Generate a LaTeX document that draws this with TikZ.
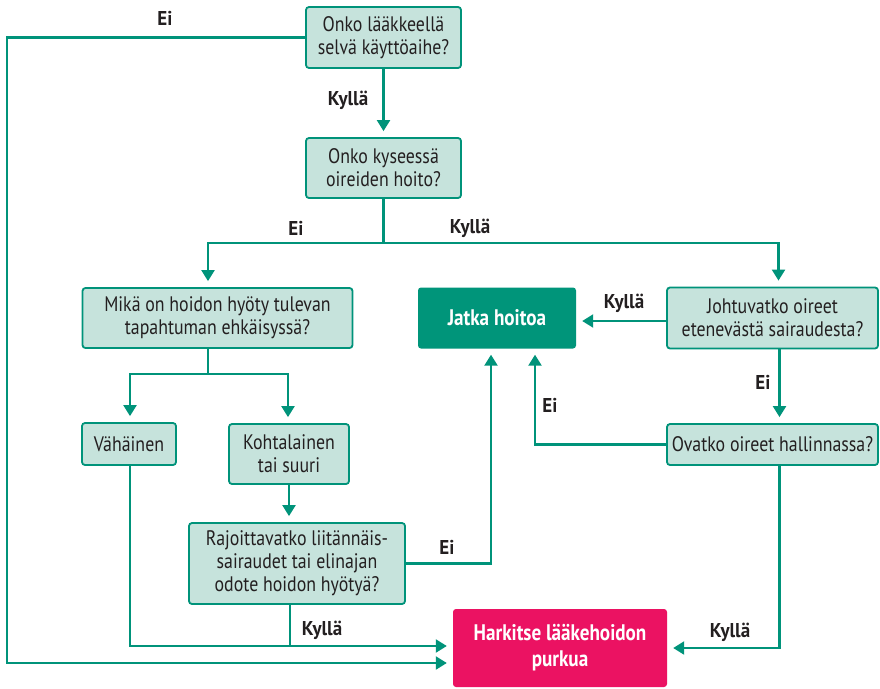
\documentclass[tikz,border=0pt]{standalone}
\usepackage{fontspec}
\setmainfont{PT Sans}[FakeStretch=0.85]
\newfontfamily\lblfont{PT Sans Bold}[FakeStretch=0.95]
\usetikzlibrary{arrows.meta}
\definecolor{lineteal}{HTML}{00937A}
\definecolor{boxfill}{HTML}{C6E3DC}
\definecolor{darkteal}{HTML}{00957A}
\definecolor{pinkred}{HTML}{EB1262}
\definecolor{txt}{HTML}{231F20}
\tikzset{
  qbox/.style={draw=lineteal, fill=boxfill, line width=1.8pt, rounded corners=3pt,
    align=center, inner sep=0pt, text=txt, font=\fontsize{21}{23}\selectfont},
  okbox/.style={fill=darkteal, rounded corners=3pt, align=center, inner sep=0pt,
    text=white, font=\fontsize{22.5}{26}\selectfont\bfseries},
  stopbox/.style={fill=pinkred, rounded corners=3pt, align=center, inner sep=0pt,
    text=white, font=\fontsize{22.5}{26}\selectfont\bfseries},
  conn/.style={draw=lineteal, line width=2.2pt},
  arr/.style={conn, -{Triangle[width=13pt,length=11pt]}, shorten >=6pt},
  lbl/.style={text=txt, font=\lblfont\fontsize{20}{22}\selectfont, inner sep=0pt},
}
\begin{document}
\begin{tikzpicture}[x=1pt,y=-1pt]
\useasboundingbox (0,0) rectangle (880,688);
\fill[white] (0,0) rectangle (880,688);
% nodes
\node[qbox, minimum width=155pt, minimum height=61pt] (A) at (383.5,37.5) {Onko lääkkeellä\\selvä käyttöaihe?};
\node[qbox, minimum width=155pt, minimum height=60pt] (B) at (383.5,168) {Onko kyseessä\\oireiden hoito?};
\node[qbox, minimum width=270pt, minimum height=60pt] (M) at (217.5,318) {Mikä on hoidon hyöty tulevan\\tapahtuman ehkäisyssä?};
\node[okbox, minimum width=158pt, minimum height=61pt] (J) at (497,318) {Jatka hoitoa};
\node[qbox, minimum width=211pt, minimum height=61pt] (Jo) at (772.5,318) {Johtuvatko oireet\\etenevästä sairaudesta?};
\node[qbox, minimum width=211pt, minimum height=41pt] (O) at (772.5,444.5) {Ovatko oireet hallinnassa?};
\node[qbox, minimum width=94pt, minimum height=42pt] (V) at (129,444) {Vähäinen};
\node[qbox, minimum width=120pt, minimum height=60pt] (K) at (289,454) {Kohtalainen\\tai suuri};
\node[qbox, minimum width=216pt, minimum height=81pt] (R) at (297,563.5) {Rajoittavatko liitännäis-\\sairaudet tai elinajan\\odote hoidon hyötyä?};
\node[stopbox, minimum width=214pt, minimum height=78pt] (H) at (560,648) {Harkitse lääkehoidon\\purkua};
% connectors
\draw[arr] (A.south) -- (B.north);
\draw[arr] (A.west) -- ++(-298,0) |- ([yshift=-15pt]H.west);
\draw[arr] (B.south) -- ++(0,44) -| ([xshift=-9.5pt]M.north);
\draw[arr] (B.south) -- ++(0,44) -| ([xshift=6pt]Jo.north);
\draw[arr] ([yshift=-3pt]Jo.west) -- ([yshift=-3pt]J.east);
\draw[arr] ([xshift=7pt]Jo.south) -- ([xshift=7pt]O.north);
\draw[arr] (O.west) -| ([xshift=38pt]J.south);
\draw[arr] ([xshift=7pt]O.south) |- (H.east);
\draw[arr] ([xshift=-9.5pt]M.south) -- ++(0,25) -| ([xshift=1pt]V.north);
\draw[arr] ([xshift=-9.5pt]M.south) -- ++(0,25) -| ([xshift=-1pt]K.north);
\draw[arr] (K.south) -- (K.south |- R.north);
\draw[arr] (R.east) -| ([xshift=-6pt]J.south);
\draw[arr] ([xshift=1pt]V.south) |- ([yshift=2pt]H.west);
\draw[conn] ([xshift=-7pt]R.south) -- ++(0,42);
% labels
\node[lbl] (l1) at (165,18) {Ei};
\node[lbl] (l2) at (348,100) {Kyllä};
\node[lbl] (l3) at (296,228) {Ei};
\node[lbl] (l4) at (470,228) {Kyllä};
\node[lbl] (l5) at (624,303) {Kyllä};
\node[lbl] (l6) at (763,382) {Ei};
\node[lbl] (l7) at (550,405) {Ei};
\node[lbl] (l8) at (447,547) {Ei};
\node[lbl] (l9) at (322,630) {Kyllä};
\node[lbl] (l10) at (730,632) {Kyllä};
\end{tikzpicture}
\end{document}
